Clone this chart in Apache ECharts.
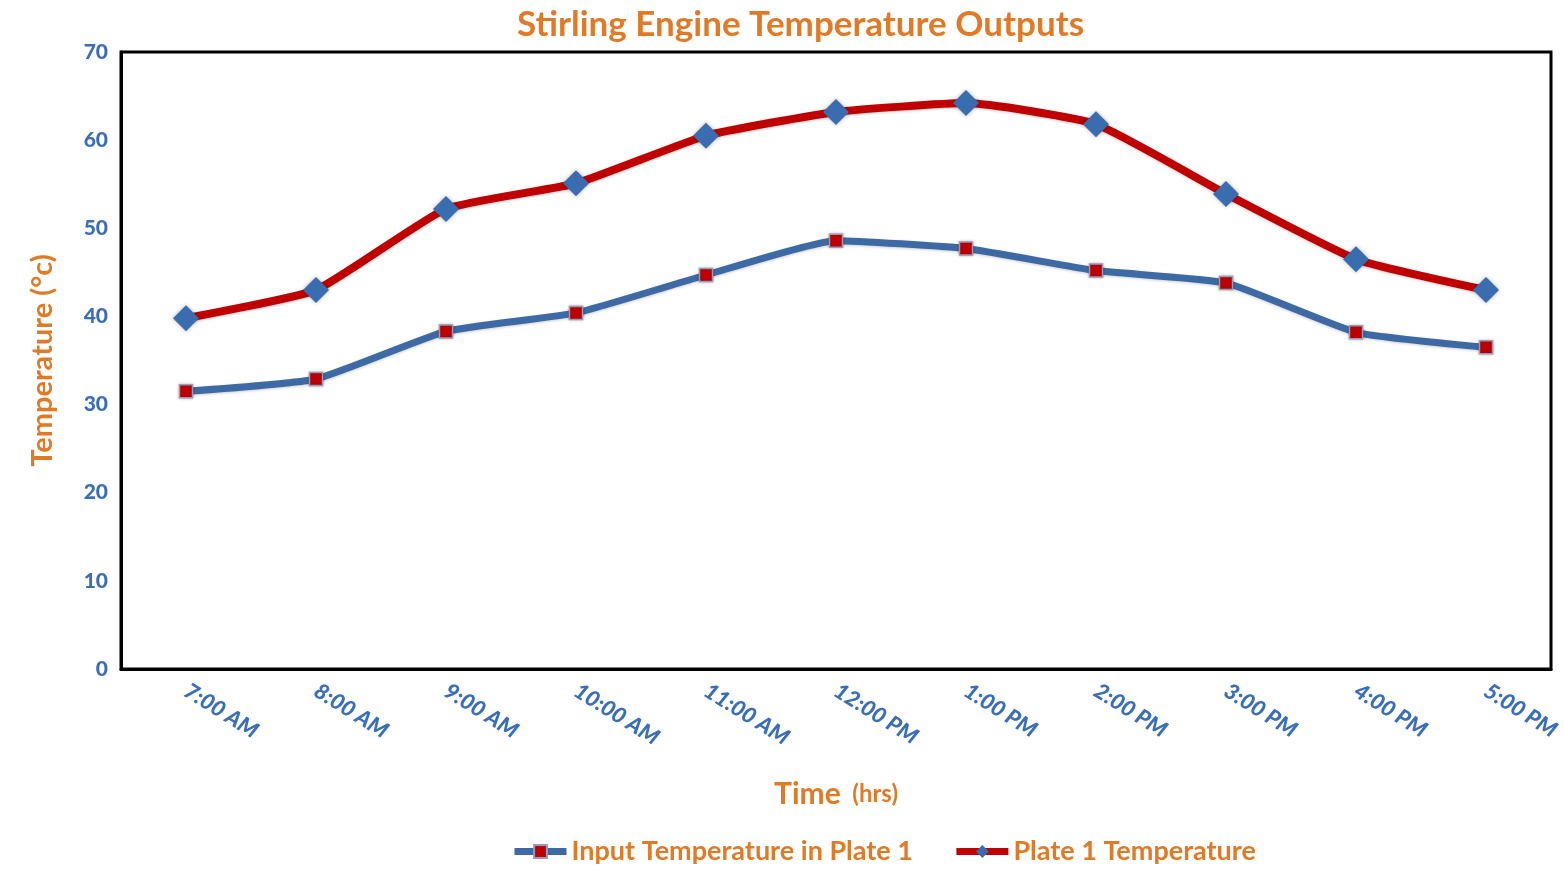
<!DOCTYPE html>
<html>
<head>
<meta charset="utf-8">
<script src="https://cdn.jsdelivr.net/npm/echarts@6/dist/echarts.min.js"></script>
<style>
html,body{margin:0;padding:0;background:#fff;}
#chart{width:1564px;height:878px;}
</style>
</head>
<body>
<div id="chart"></div>
<script>
const categories = ['7:00 AM','8:00 AM','9:00 AM','10:00 AM','11:00 AM','12:00 PM','1:00 PM','2:00 PM','3:00 PM','4:00 PM','5:00 PM'];
const inputTemperature = [31.5, 32.9, 38.3, 40.4, 44.7, 48.6, 47.7, 45.2, 43.8, 38.2, 36.5];
const plateTemperature = [39.8, 43.0, 52.2, 55.1, 60.5, 63.2, 64.2, 61.8, 53.9, 46.5, 43.0];
const yTicks = [0, 10, 20, 30, 40, 50, 60, 70];

const ORANGE = '#e07a26';
const BLUE_TXT = '#3a6fb8';
const FONT = 'Lato, "Open Sans", "Noto Sans", sans-serif';

const chart = echarts.init(document.getElementById('chart'));
chart.setOption({
  animation: false,
  backgroundColor: '#ffffff',
  title: {
    text: 'Stirling Engine Temperature Outputs',
    left: 512,
    top: 2,
    textStyle: {color: ORANGE, fontFamily: FONT, fontWeight: 'bold', fontSize: 35}
  },
  grid: {
    left: 121, right: 13, top: 52, bottom: 209,
    show: true, borderColor: '#000', borderWidth: 3, backgroundColor: 'transparent'
  },
  legend: {
    bottom: 8,
    left: 506,
    itemWidth: 52,
    itemHeight: 16,
    itemGap: 40,
    lineStyle: {width: 7},
    itemStyle: {shadowBlur: 0},
    textStyle: {color: ORANGE, fontFamily: FONT, fontWeight: 'bold', fontSize: 27},
    data: ['Input Temperature in Plate 1', 'Plate 1 Temperature']
  },
  xAxis: {
    type: 'category',
    data: categories,
    boundaryGap: true,
    axisLine: {show: true, lineStyle: {color: '#000', width: 3}},
    axisTick: {show: false},
    axisLabel: {
      rotate: -32,
      margin: 20,
      color: BLUE_TXT,
      fontFamily: FONT,
      fontWeight: 900,
      fontStyle: 'italic',
      fontSize: 22,
      interval: 0
    },
    name: '{a|Time}{b|  (hrs)}',
    nameLocation: 'middle',
    nameGap: 110,
    nameTextStyle: {
      rich: {
        a: {color: ORANGE, fontFamily: FONT, fontWeight: 'bold', fontSize: 30},
        b: {color: ORANGE, fontFamily: FONT, fontWeight: 'bold', fontSize: 24}
      }
    }
  },
  yAxis: {
    type: 'value',
    min: yTicks[0],
    max: yTicks[yTicks.length - 1],
    interval: 10,
    axisLine: {show: true, lineStyle: {color: '#000', width: 3}},
    axisTick: {show: false},
    splitLine: {show: false},
    axisLabel: {color: BLUE_TXT, fontFamily: FONT, fontWeight: 900, fontSize: 21, margin: 13},
    name: 'Temperature (°c)',
    nameLocation: 'middle',
    nameGap: 64,
    nameTextStyle: {color: ORANGE, fontFamily: FONT, fontWeight: 'bold', fontSize: 29}
  },
  series: [
    {
      name: 'Input Temperature in Plate 1',
      type: 'line',
      data: inputTemperature,
      smooth: 0.15,
      symbol: 'rect',
      symbolSize: 13,
      lineStyle: {color: '#3d69a4', width: 7, shadowColor: 'rgba(0,0,0,0.2)', shadowBlur: 3, shadowOffsetY: 1},
      itemStyle: {color: '#c00000', borderColor: '#9a9ab8', borderWidth: 1.5, shadowColor: 'rgba(0,0,0,0.3)', shadowBlur: 3}
    },
    {
      name: 'Plate 1 Temperature',
      type: 'line',
      data: plateTemperature,
      smooth: 0.15,
      symbol: 'diamond',
      symbolSize: 26,
      lineStyle: {color: '#c00000', width: 8, shadowColor: 'rgba(0,0,0,0.2)', shadowBlur: 3, shadowOffsetY: 1},
      itemStyle: {color: '#3a6cb0', borderWidth: 0, shadowColor: 'rgba(0,0,0,0.3)', shadowBlur: 4}
    }
  ]
});
</script>
</body>
</html>
